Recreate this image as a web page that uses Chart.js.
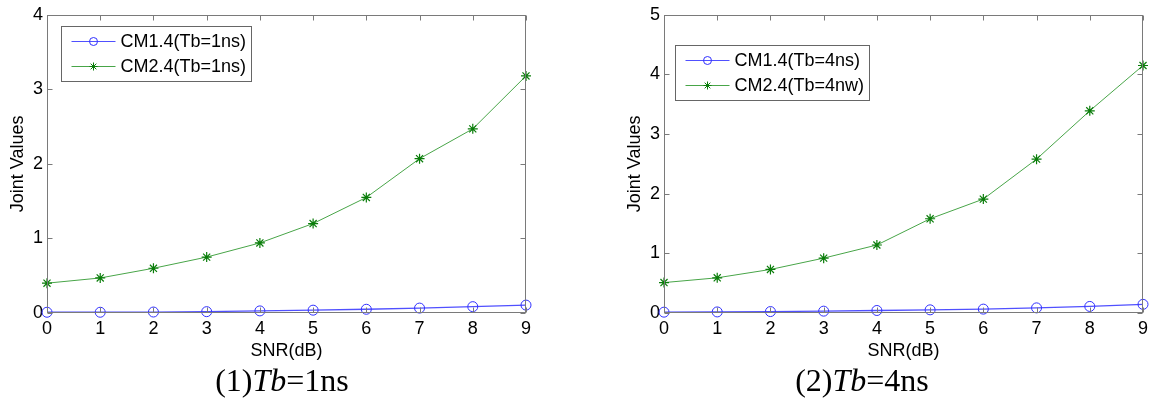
<!DOCTYPE html>
<html>
<head>
<meta charset="utf-8">
<title>Joint Values vs SNR</title>
<script src="https://cdn.jsdelivr.net/npm/chart.js@4.4.1/dist/chart.umd.min.js"></script>
<style>
  html, body { margin: 0; padding: 0; background: #fff; }
  .page { position: relative; width: 1161px; height: 403px; overflow: hidden; }
  .panel { position: absolute; top: 0; }
  .caption {
    position: absolute; top: 364px; width: 240px; text-align: center;
    font-family: 'Liberation Serif', 'Times New Roman', serif;
    font-size: 32px; line-height: 32px; color: #000;
  }
</style>
</head>
<body>
<div class="page">
  <div class="panel" style="left:0"><canvas id="chart-1ns" width="580" height="403"></canvas></div>
  <div class="panel" style="left:580px"><canvas id="chart-4ns" width="581" height="403"></canvas></div>
  <div class="caption" style="left:162px">(1)<i>Tb</i>=1ns</div>
  <div class="caption" style="left:742px">(2)<i>Tb</i>=4ns</div>
</div>
<script>
// x axis: SNR in dB
const snr = [0, 1, 2, 3, 4, 5, 6, 7, 8, 9];

// panel (1): Tb = 1ns
const cm1Tb1 = [0.010, 0.010, 0.013, 0.018, 0.028, 0.038, 0.050, 0.066, 0.085, 0.106];
const cm2Tb1 = [0.40, 0.47, 0.60, 0.75, 0.94, 1.20, 1.55, 2.07, 2.47, 3.18];

// panel (2): Tb = 4ns
const cm1Tb4 = [0.014, 0.018, 0.024, 0.031, 0.042, 0.053, 0.065, 0.086, 0.110, 0.145];
const cm2Tb4 = [0.51, 0.59, 0.73, 0.92, 1.14, 1.58, 1.91, 2.58, 3.39, 4.15];

const yTicks1 = [0, 1, 2, 3, 4];
const yTicks2 = [0, 1, 2, 3, 4, 5];

const AXIS_GRAY = '#7a7a7a';
const BLUE_LINE = '#5050ff';
const BLUE_MARK = '#3030ff';
const GREEN_LINE = '#48a548';
const GREEN_MARK = '#0a7d0a';

Chart.defaults.font.family = "'Liberation Sans', Arial, sans-serif";
Chart.defaults.font.size = 18;
Chart.defaults.color = '#000';

// MATLAB style box with inward tick marks
const matlabAxes = {
  id: 'matlabAxes',
  afterDatasetsDraw(chart) {
    const { ctx, chartArea: a, scales: { x, y } } = chart;
    const L = Math.round(a.left) + 0.5, R = Math.round(a.right) - 0.5;
    const T = Math.round(a.top) + 0.5, B = Math.round(a.bottom) - 0.5;
    const len = 5;
    ctx.save();
    ctx.strokeStyle = AXIS_GRAY;
    ctx.lineWidth = 1;
    ctx.strokeRect(L, T, R - L, B - T);
    ctx.beginPath();
    x.ticks.forEach(t => {
      const px = Math.round(x.getPixelForValue(t.value)) + 0.5;
      ctx.moveTo(px, B); ctx.lineTo(px, B - len);
      ctx.moveTo(px, T); ctx.lineTo(px, T + len);
    });
    y.ticks.forEach(t => {
      const py = Math.round(y.getPixelForValue(t.value)) + 0.5;
      ctx.moveTo(L, py); ctx.lineTo(L + len, py);
      ctx.moveTo(R, py); ctx.lineTo(R - len, py);
    });
    ctx.stroke();
    ctx.restore();
  }
};

function drawMarker(ctx, style, cx, cy, r) {
  ctx.beginPath();
  if (style === 'circle') {
    ctx.arc(cx, cy, r, 0, Math.PI * 2);
  } else {
    // asterisk: + and x overlaid
    const d = r * Math.SQRT1_2;
    ctx.moveTo(cx - r, cy); ctx.lineTo(cx + r, cy);
    ctx.moveTo(cx, cy - r); ctx.lineTo(cx, cy + r);
    ctx.moveTo(cx - d, cy - d); ctx.lineTo(cx + d, cy + d);
    ctx.moveTo(cx - d, cy + d); ctx.lineTo(cx + d, cy - d);
  }
  ctx.stroke();
}

// boxed legend sitting inside the plot, line sample + marker + text
const boxLegend = {
  id: 'boxLegend',
  afterDraw(chart, args, opts) {
    const { ctx, chartArea: a } = chart;
    const sets = chart.data.datasets;
    ctx.save();
    ctx.font = "18px 'Liberation Sans', Arial, sans-serif";
    const textW = Math.max(...sets.map(d => ctx.measureText(d.label).width));
    const bx = Math.round(a.left + opts.left) + 0.5;
    const by = Math.round(a.top + opts.top) + 0.5;
    const bw = Math.round(59 + textW + 5);
    const bh = 55;
    ctx.fillStyle = '#fff';
    ctx.fillRect(bx, by, bw, bh);
    ctx.strokeStyle = '#666';
    ctx.lineWidth = 1;
    ctx.strokeRect(bx, by, bw, bh);
    sets.forEach((d, i) => {
      const ry = by + [15, 40][i];
      ctx.strokeStyle = d.borderColor;
      ctx.lineWidth = 1;
      ctx.beginPath();
      ctx.moveTo(bx + 10, ry);
      ctx.lineTo(bx + 54, ry);
      ctx.stroke();
      ctx.strokeStyle = d.pointBorderColor;
      drawMarker(ctx, d.pointStyle, bx + 32, ry, 4);
      ctx.fillStyle = '#000';
      ctx.textBaseline = 'middle';
      ctx.textAlign = 'left';
      ctx.fillText(d.label, bx + 59, ry + 1);
    });
    ctx.restore();
  }
};

function toPoints(values) {
  return snr.map((s, i) => ({ x: s, y: values[i] }));
}

function makeChart(id, opt) {
  const ctx = document.getElementById(id).getContext('2d');
  return new Chart(ctx, {
    type: 'line',
    data: {
      datasets: [{
        label: opt.labels[0],
        data: toPoints(opt.cm1),
        borderColor: BLUE_LINE,
        borderWidth: 1.3,
        pointStyle: 'circle',
        pointRadius: 5,
        pointBorderColor: BLUE_MARK,
        pointBackgroundColor: 'rgba(0,0,0,0)',
        pointBorderWidth: 1,
        tension: 0,
        clip: false
      }, {
        label: opt.labels[1],
        data: toPoints(opt.cm2),
        borderColor: GREEN_LINE,
        borderWidth: 1,
        pointStyle: 'star',
        pointRadius: 5,
        pointBorderColor: GREEN_MARK,
        pointBackgroundColor: GREEN_MARK,
        pointBorderWidth: 1.2,
        tension: 0,
        clip: false
      }]
    },
    options: {
      responsive: false,
      animation: false,
      layout: { padding: opt.padding },
      scales: {
        x: {
          type: 'linear',
          min: snr[0],
          max: snr[snr.length - 1],
          afterBuildTicks: s => { s.ticks = snr.map(v => ({ value: v })); },
          afterFit: s => { s.height = 50; },
          grid: { display: false, drawTicks: false },
          border: { display: false },
          ticks: { padding: 5, color: '#000', font: { size: 18 } },
          title: { display: true, text: 'SNR(dB)', color: '#000', font: { size: 18 }, padding: { top: 0, bottom: 1 } }
        },
        y: {
          min: opt.yTicks[0],
          max: opt.yTicks[opt.yTicks.length - 1],
          afterBuildTicks: s => { s.ticks = opt.yTicks.map(v => ({ value: v })); },
          afterFit: s => { s.width = 47; },
          grid: { display: false, drawTicks: false },
          border: { display: false },
          ticks: { padding: 4, color: '#000', font: { size: 18 } },
          title: { display: true, text: 'Joint Values', color: '#000', font: { size: 18 }, padding: { top: 7, bottom: 0 } }
        }
      },
      plugins: {
        legend: { display: false },
        tooltip: { enabled: false },
        boxLegend: opt.legend
      }
    },
    plugins: [matlabAxes, boxLegend]
  });
}

makeChart('chart-1ns', {
  labels: ['CM1.4(Tb=1ns)', 'CM2.4(Tb=1ns)'],
  cm1: cm1Tb1,
  cm2: cm2Tb1,
  yTicks: yTicks1,
  padding: { left: 0, top: 12, right: 54, bottom: 40 },
  legend: { left: 14, top: 11 }
});

makeChart('chart-4ns', {
  labels: ['CM1.4(Tb=4ns)', 'CM2.4(Tb=4nw)'],
  cm1: cm1Tb4,
  cm2: cm2Tb4,
  yTicks: yTicks2,
  padding: { left: 37, top: 12, right: 18, bottom: 40 },
  legend: { left: 11, top: 30 }
});
</script>
</body>
</html>
